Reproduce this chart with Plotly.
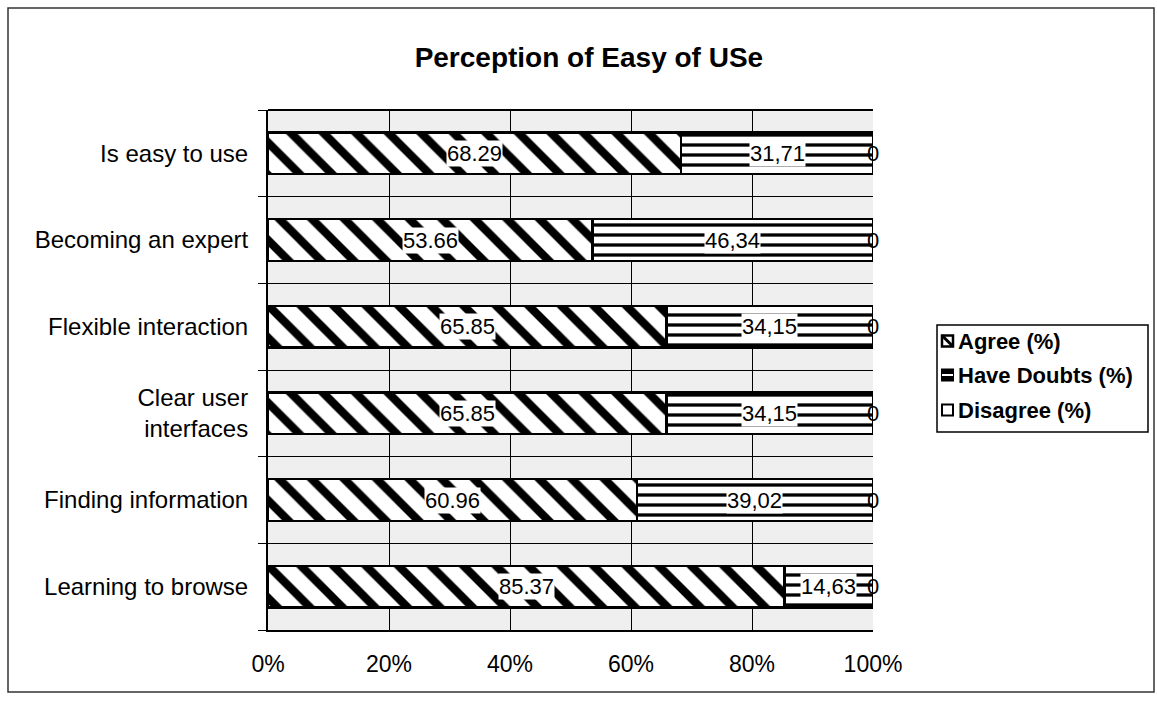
import plotly.graph_objects as go

# Survey statements, listed bottom to top as drawn on the y axis
statements = [
    "Learning to browse",
    "Finding information",
    "Clear user<br>interfaces",
    "Flexible interaction",
    "Becoming an expert",
    "Is easy to use",
]
agree = [85.37, 60.96, 65.85, 65.85, 53.66, 68.29]
doubts = [14.63, 39.02, 34.15, 34.15, 46.34, 31.71]
disagree = [0, 0, 0, 0, 0, 0]

series_names = ["Agree (%)", "Have Doubts (%)", "Disagree (%)"]

x_ticks = [0, 20, 40, 60, 80, 100]
x_tick_text = ["0%", "20%", "40%", "60%", "80%", "100%"]

FONT = "Liberation Sans, Arial, sans-serif"
ypos = list(range(len(statements)))

# plot-area geometry in pixels
L, R, T, B = 268, 873, 110, 630
W, H = 1157, 702


def px_x(p):
    return (p - L) / (R - L)


def px_y(p):
    return (B - p) / (B - T)


fig = go.Figure()

fig.add_trace(go.Bar(
    name=series_names[0], y=ypos, x=agree, orientation="h", width=0.48,
    marker=dict(color="white", line=dict(color="black", width=2.5),
                pattern=dict(shape="\\", fgcolor="black", bgcolor="white",
                             fgopacity=1, size=23, solidity=0.36)),
))
fig.add_trace(go.Bar(
    name=series_names[1], y=ypos, x=doubts, orientation="h", width=0.48,
    marker=dict(color="white", line=dict(color="black", width=2.5),
                pattern=dict(shape="-", fgcolor="black", bgcolor="white",
                             fgopacity=1, size=10, solidity=0.33)),
))
fig.add_trace(go.Bar(
    name=series_names[2], y=ypos, x=disagree, orientation="h", width=0.48,
    marker=dict(color="white", line=dict(color="black", width=1.5)),
))

label_font = dict(family=FONT, size=22, color="black")
annotations = []
for i in ypos:
    a, d, n = agree[i], doubts[i], disagree[i]
    annotations.append(dict(
        x=a / 2, y=i, xref="x", yref="y", showarrow=False,
        text=f"{a:.2f}", font=label_font, bgcolor="white", borderpad=0,
    ))
    annotations.append(dict(
        x=a + d / 2, y=i, xref="x", yref="y", showarrow=False,
        text=f"{d:.2f}".replace(".", ","), font=label_font,
        bgcolor="white", borderpad=0,
    ))
    annotations.append(dict(
        x=a + d + n, y=i, xref="x", yref="y", showarrow=False,
        text=f"{n:g}", xanchor="left", xshift=-8, font=label_font,
    ))

shapes = [
    # top edge of the plot area
    dict(type="line", xref="paper", yref="paper", x0=0, x1=1, y0=1, y1=1,
         line=dict(color="black", width=2)),
    # frame around the whole chart
    dict(type="rect", xref="paper", yref="paper",
         x0=px_x(8), x1=px_x(1154), y0=px_y(692), y1=px_y(8),
         line=dict(color="#333333", width=1.5), layer="below"),
    # legend box
    dict(type="rect", xref="paper", yref="paper",
         x0=px_x(937), x1=px_x(1148), y0=px_y(432), y1=px_y(325),
         line=dict(color="black", width=1.5), fillcolor="white"),
]

# legend rows: swatch + text
legend_rows_y = [341, 375, 410]
legend_font = dict(family=FONT, size=22, color="black")
for k, name in enumerate(series_names):
    cy = legend_rows_y[k]
    x0, x1 = px_x(942), px_x(953)
    y0, y1 = px_y(cy + 5.5), px_y(cy - 5.5)
    if k == 0:
        shapes.append(dict(type="rect", xref="paper", yref="paper",
                           x0=x0, x1=x1, y0=y0, y1=y1, fillcolor="white",
                           line=dict(color="black", width=2.5)))
        shapes.append(dict(type="line", xref="paper", yref="paper",
                           x0=x0, x1=x1, y0=y1, y1=y0,
                           line=dict(color="black", width=3)))
    elif k == 1:
        shapes.append(dict(type="rect", xref="paper", yref="paper",
                           x0=x0, x1=x1, y0=y0, y1=y1, fillcolor="black",
                           line=dict(color="black", width=2)))
        shapes.append(dict(type="line", xref="paper", yref="paper",
                           x0=x0, x1=x1, y0=px_y(cy), y1=px_y(cy),
                           line=dict(color="white", width=2)))
    else:
        shapes.append(dict(type="rect", xref="paper", yref="paper",
                           x0=x0, x1=x1, y0=y0, y1=y1, fillcolor="white",
                           line=dict(color="black", width=2)))
    annotations.append(dict(
        x=px_x(956), y=px_y(cy), xref="paper", yref="paper",
        xanchor="left", yanchor="middle", showarrow=False,
        text=f"<b>{name}</b>", font=legend_font,
    ))

fig.update_layout(
    barmode="stack",
    width=W, height=H,
    margin=dict(l=L, r=W - R, t=T, b=H - B),
    paper_bgcolor="white",
    plot_bgcolor="#efefef",
    font=dict(family=FONT, size=23, color="black"),
    title=dict(text="<b>Perception of Easy of USe</b>", x=0.509, xanchor="center",
               y=1 - 57 / H, yanchor="middle",
               font=dict(family=FONT, size=28, color="black")),
    annotations=annotations,
    shapes=shapes,
    showlegend=False,
)

fig.update_xaxes(
    range=[0, 100], tickvals=x_ticks, ticktext=x_tick_text,
    showgrid=True, gridcolor="black", gridwidth=1,
    showline=True, linecolor="black", linewidth=2,
    ticks="", ticklabelstandoff=12, zeroline=False,
    tickfont=dict(family=FONT, size=23, color="black"),
)
fig.update_yaxes(
    range=[-0.5, len(statements) - 0.5],
    tickvals=ypos, ticktext=statements,
    showgrid=False, zeroline=False,
    showline=True, linecolor="black", linewidth=2,
    ticks="", ticklabelstandoff=13,
    tickfont=dict(family=FONT, size=24, color="black"),
    minor=dict(tickvals=[k + 0.5 for k in range(-1, len(statements))],
               showgrid=True, gridcolor="black", gridwidth=1,
               ticks="outside", ticklen=8, tickcolor="black", tickwidth=1),
)

fig.write_html("out.html")
